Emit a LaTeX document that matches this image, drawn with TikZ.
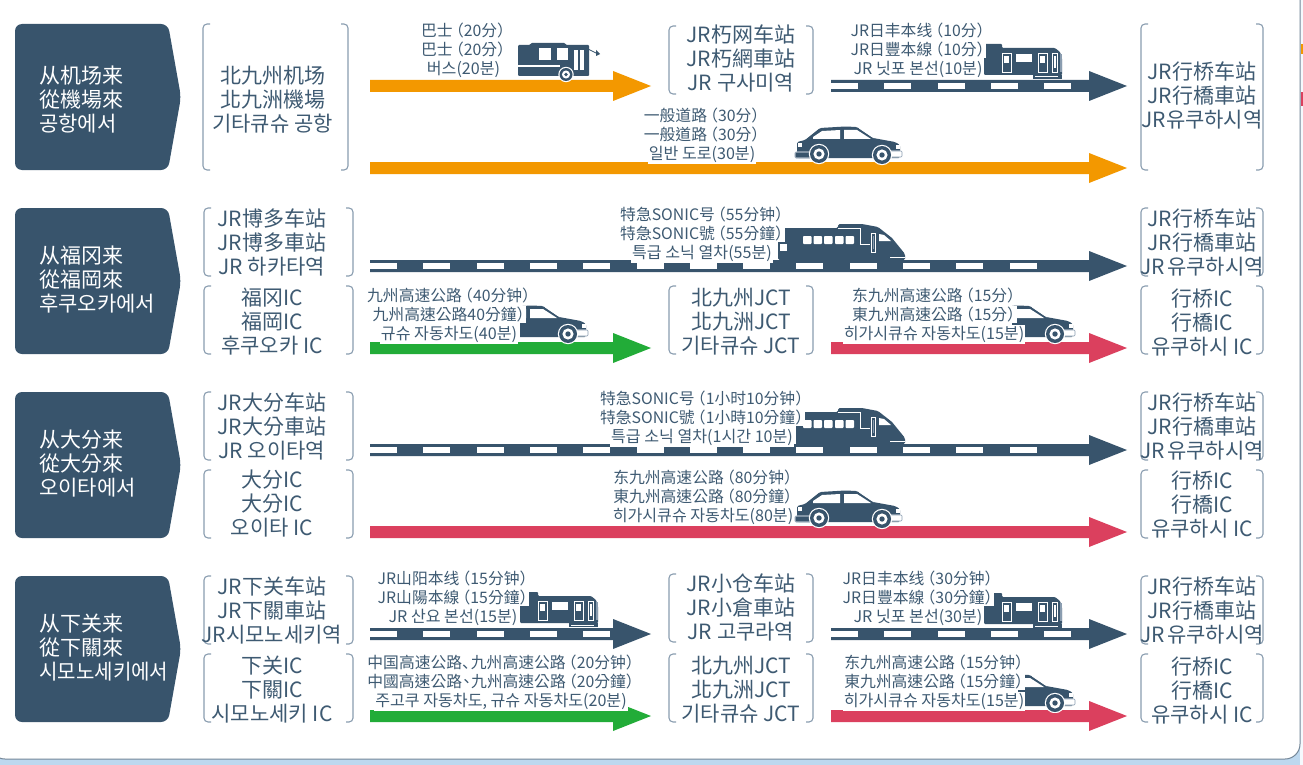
\documentclass[tikz,border=0pt]{standalone}
\usepackage{fontspec}
\newfontfamily\zhs{Noto Sans CJK SC}
\newfontfamily\zht{Noto Sans CJK TC}
\newfontfamily\kor{Noto Sans CJK KR}
\setlength\fboxsep{1pt}
\definecolor{dk}{HTML}{38546C}
\definecolor{tx}{HTML}{3E5A72}
\definecolor{brk}{HTML}{8A9DB0}
\definecolor{org}{HTML}{F39800}
\definecolor{grn}{HTML}{22AC38}
\definecolor{rd}{HTML}{DB405E}
\definecolor{sky}{HTML}{BDD8EF}
\tikzset{
  bigtxt/.style={inner sep=0pt,align=center,text=tx,font=\fontsize{21}{24}\selectfont},
  chevtxt/.style={inner sep=0pt,align=left,anchor=west,text=white,font=\fontsize{21}{24}\selectfont},
  smalltxt/.style={inner sep=0pt,align=center,text=tx,font=\fontsize{15.8}{18.9}\selectfont},
  brkline/.style={draw=brk,line width=1.1pt,rounded corners=4pt},
}
% three language lines
\newcommand\tl[3]{{\zhs #1}\\{\zht #2}\\{\kor #3}}
% three lines on white bands
\newcommand\wl[3]{\colorbox{white}{\zhs #1}\\\colorbox{white}{\zht #2}\\\colorbox{white}{\kor\fontsize{16.1}{18.9}\selectfont #3}}
\newcommand\lp{\kern-.3em （}
\newcommand\rp{）\kern-.45em}
% chevron: name, top y, text offset, text
\newcommand\chev[4]{%
  \fill[dk,rounded corners=7pt] (15,#2) -- (168,#2) -- (181,{#2+73}) -- (168,{#2+146}) -- (15,{#2+146}) -- cycle;
  \node[chevtxt] (#1) at (39,{#2+#3}) {#4};}
% bracket box: name, x1,y1,x2,y2, text x, text y, text
\newcommand\bbox[8]{%
  \coordinate (#1-nw) at (#2,#3);\coordinate (#1-se) at (#4,#5);
  \draw[brkline] ({#2+7},#3) -- (#2,#3) -- (#2,#5) -- ({#2+7},#5);
  \draw[brkline] ({#4-7},#3) -- (#4,#3) -- (#4,#5) -- ({#4-7},#5);
  \node[bigtxt] (#1) at (#6,#7) {#8};}
% flow arrow: name, x1,x2,y,colour
\newcommand\flow[5]{%
  \coordinate (#1-s) at (#2,#4);\coordinate (#1-e) at (#3,#4);
  \fill[#5] (#2,{#4-6}) -- ({#3-38},{#4-6}) -- ({#3-38},{#4-15}) -- (#3,#4) -- ({#3-38},{#4+15}) -- ({#3-38},{#4+6}) -- (#2,{#4+6}) -- cycle;}
% road: same, with white dashes
\newcommand\road[4]{%
  \flow{#1}{#2}{#3}{#4}{dk}
  \pgfmathsetmacro\rdend{#3-38}
  \foreach \k in {0,...,14}{%
    \pgfmathsetmacro\da{#2+53.3*\k}\pgfmathsetmacro\db{\da+27}
    \pgfmathparse{\db<\rdend ? 1 : 0}
    \ifnum\pgfmathresult=1 \fill[white] (\da,{#4-2.8}) rectangle (\db,{#4+2.8});\fi}}
% small label: name,x,y,text
\newcommand\lab[4]{\node[smalltxt] (#1) at (#2,#3) {#4};}
\newcommand\wheel[3]{%
  \fill[white] (#1,#2) circle ({#3+1.2});
  \fill[dk] (#1,#2) circle (#3);
  \fill[white] (#1,#2) circle ({#3*0.62});
  \fill[dk] (#1,#2) circle ({#3*0.3});}
% car in row-1 position
\newcommand\carshape{%
  \fill[dk,rounded corners=1.5pt] (797,158) -- (797,142) -- (805,140) -- (820,128) -- (845,126.5) -- (857,127) -- (873,138) -- (895,142) -- (900,145) -- (900,158) -- cycle;
  \fill[white] (813,137) -- (822,131) -- (840,130) -- (840,139) -- (813,139) -- cycle;
  \fill[white] (844,130) -- (857,130) -- (871,139) -- (844,139) -- cycle;
  \draw[white,line width=.6pt] (859,128) -- (874,138);
  \fill[white] (798,143) rectangle (802,147);
  \fill[white] (896,145) rectangle (900,149);
  \draw[white,fill=dk,line width=.8pt,rounded corners=1pt] (795,152) rectangle (812,158);
  \draw[white,fill=white,line width=.8pt,rounded corners=1pt] (890,151) rectangle (902,157);
  \draw[brk,line width=.6pt,rounded corners=1pt] (795,152) rectangle (812,158);
  \draw[brk,line width=.6pt,rounded corners=1pt] (890,151) rectangle (902,157);
  \wheel{819}{154}{9}
  \wheel{882}{155}{9}}
% short commuter train in row-1 right position
\newcommand\localtrain{%
  \fill[dk,rounded corners=1pt] (984,44) -- (1002,44) -- (1002,48) -- (1055,48) -- (1060,52) -- (1062,58) -- (1062,75) -- (984,75) -- cycle;
  \fill[dk] (1033,75) rectangle (1062,79);
  \fill[white] (1035,76.5) rectangle (1058,77.5);
  \draw[white,line width=.8pt] (1002,53) rectangle (1011,72);
  \fill[white] (1004,56) rectangle (1009,63);
  \fill[white] (1016,54) rectangle (1032,62);
  \draw[white,line width=.8pt] (1038,53) rectangle (1047,72);
  \fill[white] (1040,56) rectangle (1045,63);
  \draw[white,line width=.8pt] (1052,53) rectangle (1057,72);
  \fill[white] (1053.5,56) rectangle (1055.5,68);
  \fill[brk] (1060,54) rectangle (1062,72);}
% express train in row-2 position
\newcommand\expresstrain{%
  \fill[dk,rounded corners=1.5pt] (778,228) -- (838,228) -- (838,224) -- (862,224) -- (878,227) -- (892,238) -- (905,254) -- (905,260) -- (778,260) -- cycle;
  \fill[white] (890,258) rectangle (905,256.5);
  \foreach \wx in {803,813.5,824,835,845.5}
    \fill[white,rounded corners=.8pt] (\wx,236) rectangle ({\wx+8.5},244);
  \draw[white,line width=.7pt] (838,228) -- (860,228) -- (860,244) -- (870,244);
  \draw[white,line width=.8pt] (871,233) rectangle (875,252);
  \fill[brk] (872.5,236) rectangle (873.5,249);
  \fill[white] (879,234) -- (884,235) -- (891,241) -- (879,241) -- cycle;
  \fill[white] (780,244) rectangle (787,251);}
\newcommand\busshape{%
  \fill[dk,rounded corners=1pt] (518,45) -- (530,45) -- (531,43) -- (565,43) -- (566,45) -- (589,45) -- (589,76) -- (518,76) -- cycle;
  \fill[white] (539,48) rectangle (551,60);
  \fill[white] (557,48) rectangle (568,60);
  \fill[white] (518,65) rectangle (560,67);
  \fill[white] (574,50) rectangle (584,70);
  \fill[dk] (578,50) rectangle (580,70);
  \draw[dk,line width=.8pt] (588,49) -- (596,53);
  \fill[dk] (596,50) -- (600,54) -- (596,56) -- cycle;
  \wheel{566}{74.5}{6.5}}
\begin{document}
\begin{tikzpicture}[x=1pt,y=-1pt]
\useasboundingbox (0,0) rectangle (1303,765);
% page and panel
\fill[sky] (0,0) rectangle (1303,765);
\fill[white!85!sky] (1300,0) rectangle (1303,765);
\fill[org] (1301,44) rectangle (1303,54);
\fill[rd] (1301,92) rectangle (1303,106);
\draw[fill=white,draw=dk!70!white,line width=1pt,rounded corners=15pt] (-10,-30) -- (1300,-30) -- (1300,759) -- (-10,759) -- cycle;

% flows
\flow{af1}{370}{651}{86}{org}
\road{af2}{831}{1127}{86}
\flow{af3}{370}{1127}{168}{org}
\road{bf1}{370}{1127}{266}
\flow{bf2}{370}{651}{348}{grn}
\flow{bf3}{831}{1127}{348}{rd}
\road{cf1}{370}{1127}{450}
\flow{cf2}{370}{1127}{532}{rd}
\road{df1}{370}{651}{634}
\road{df2}{831}{1127}{634}
\flow{df3}{370}{651}{716}{grn}
\flow{df4}{831}{1127}{716}{rd}

% vehicles
\busshape
\localtrain
\carshape
\begin{scope}[shift={(0,364)}]\carshape\end{scope}
\expresstrain
\begin{scope}
  \clip (796,380) rectangle (920,460);
  \begin{scope}[shift={(0,184)}]\expresstrain\end{scope}
\end{scope}
\begin{scope}[shift={(0,549)}]\localtrain\end{scope}
\begin{scope}[shift={(-464,548)}]\localtrain\end{scope}
\begin{scope}
  \clip (520,300) rectangle (600,345);
  \begin{scope}[shift={(-314,179)}]\carshape\end{scope}
\end{scope}
\begin{scope}
  \clip (1012,300) rectangle (1090,345);
  \begin{scope}[shift={(173,179)}]\carshape\end{scope}
\end{scope}
\begin{scope}
  \clip (1018,668) rectangle (1090,712);
  \begin{scope}[shift={(173,548)}]\carshape\end{scope}
\end{scope}

% chevrons
\chev{ch1}{24}{76}{\tl{从机场来}{從機場來}{공항에서}}
\chev{ch2}{208}{72}{\tl{从福冈来}{從福岡來}{후쿠오카에서}}
\chev{ch3}{392}{72}{\tl{从大分来}{從大分來}{오이타에서}}
\chev{ch4}{576}{72}{\tl{从下关来}{從下關來}{\scalebox{.955}[1]{시모노세키에서}}}

% place boxes
\bbox{a1}{203}{24}{348}{170}{272.5}{100}{\tl{北九州机场}{北九洲機場}{기타큐슈 공항}}
\bbox{a2}{669}{26}{813}{94}{741}{58}{\tl{JR朽网车站}{JR朽網車站}{JR 구사미역}}
\bbox{a3}{1141}{24}{1263}{170}{1202}{95.5}{\tl{JR行桥车站}{JR行橋車站}{JR유쿠하시역}}
\bbox{b1}{204}{208}{353}{276}{272}{242}{\tl{JR博多车站}{JR博多車站}{JR 하카타역}}
\bbox{b2}{1141}{208}{1263}{276}{1202}{242}{\tl{JR行桥车站}{JR行橋車站}{JR\kern.1em 유쿠하시역}}
\bbox{b3}{204}{286}{353}{354}{272}{322}{\tl{福冈IC}{福岡IC}{후쿠오카 IC}}
\bbox{b4}{669}{286}{813}{354}{741}{322}{\tl{北九州JCT}{北九洲JCT}{기타큐슈 JCT}}
\bbox{b5}{1141}{286}{1263}{354}{1202}{322}{\tl{行桥IC}{行橋IC}{유쿠하시 IC}}
\bbox{c1}{204}{392}{353}{460}{272}{426}{\tl{JR大分车站}{JR大分車站}{JR 오이타역}}
\bbox{c2}{1141}{392}{1263}{460}{1202}{426}{\tl{JR行桥车站}{JR行橋車站}{JR\kern.1em 유쿠하시역}}
\bbox{c3}{204}{470}{353}{538}{272}{504}{\tl{大分IC}{大分IC}{오이타 IC}}
\bbox{c4}{1141}{470}{1263}{538}{1202}{504}{\tl{行桥IC}{行橋IC}{유쿠하시 IC}}
\bbox{d1}{204}{576}{353}{644}{272}{610}{\tl{JR下关车站}{JR下關車站}{JR시모노세키역}}
\bbox{d2}{669}{574}{813}{642}{741}{607}{\tl{JR小仓车站}{JR小倉車站}{JR 고쿠라역}}
\bbox{d3}{1141}{576}{1263}{644}{1202}{610}{\tl{JR行桥车站}{JR行橋車站}{JR\kern.1em 유쿠하시역}}
\bbox{d4}{204}{654}{353}{722}{272}{690}{\tl{下关IC}{下關IC}{시모노세키 IC}}
\bbox{d5}{669}{654}{813}{722}{741}{690}{\tl{北九州JCT}{北九洲JCT}{기타큐슈 JCT}}
\bbox{d6}{1141}{654}{1263}{722}{1202}{690}{\tl{行桥IC}{行橋IC}{유쿠하시 IC}}

% route labels
\lab{l1}{463.5}{50}{\wl{巴士\lp 20分\rp}{巴士\lp 20分\rp}{버스(20분)}}
\lab{l2}{918}{50}{\wl{JR日丰本线\lp 10分\rp}{JR日豐本線\lp 10分\rp}{JR 닛포 본선(10분)}}
\lab{l3}{702}{135.5}{\wl{一般道路\lp 30分\rp}{一般道路\lp 30分\rp}{일반 도로(30분)}}
\lab{l4}{702}{234.5}{\wl{特急SONIC号\lp 55分钟\rp}{特急SONIC號\lp 55分鐘\rp}{특급 소닉 열차(55분)}}
\lab{l5}{449}{315.5}{\wl{九州高速公路\lp 40分钟\rp}{九州高速公路40分鐘\rp}{규슈 자동차도(40분)}}
\lab{l6}{934}{315.5}{\wl{东九州高速公路\lp 15分\rp}{東九州高速公路\lp 15分\rp}{히가시큐슈 자동차도(15분)}}
\lab{l7}{702}{418.5}{\wl{特急SONIC号\lp 1小时10分钟\rp}{特急SONIC號\lp 1小時10分鐘\rp}{특급 소닉 열차(1시간 10분)}}
\lab{l8}{703}{497.5}{\wl{东九州高速公路\lp 80分钟\rp}{東九州高速公路\lp 80分鐘\rp}{히가시큐슈 자동차도(80분)}}
\lab{l9}{453}{598.5}{\wl{JR山阳本线\lp 15分钟\rp}{JR山陽本線\lp 15分鐘\rp}{JR 산요 본선(15분)}}
\lab{l10}{918}{598.5}{\wl{JR日丰本线\lp 30分钟\rp}{JR日豐本線\lp 30分鐘\rp}{JR 닛포 본선(30분)}}
\lab{l11}{501}{682.5}{\wl{中国高速公路、\kern-.45em 九州高速公路\lp 20分钟\rp}{中國高速公路\kern-.22em 、\kern-.22em 九州高速公路\lp 20分鐘\rp}{주고쿠 자동차도, 규슈 자동차도(20분)}}
\lab{l12}{934}{682.5}{\wl{东九州高速公路\lp 15分钟\rp}{東九州高速公路\lp 15分鐘\rp}{히가시큐슈 자동차도(15분)}}
\end{tikzpicture}
\end{document}
